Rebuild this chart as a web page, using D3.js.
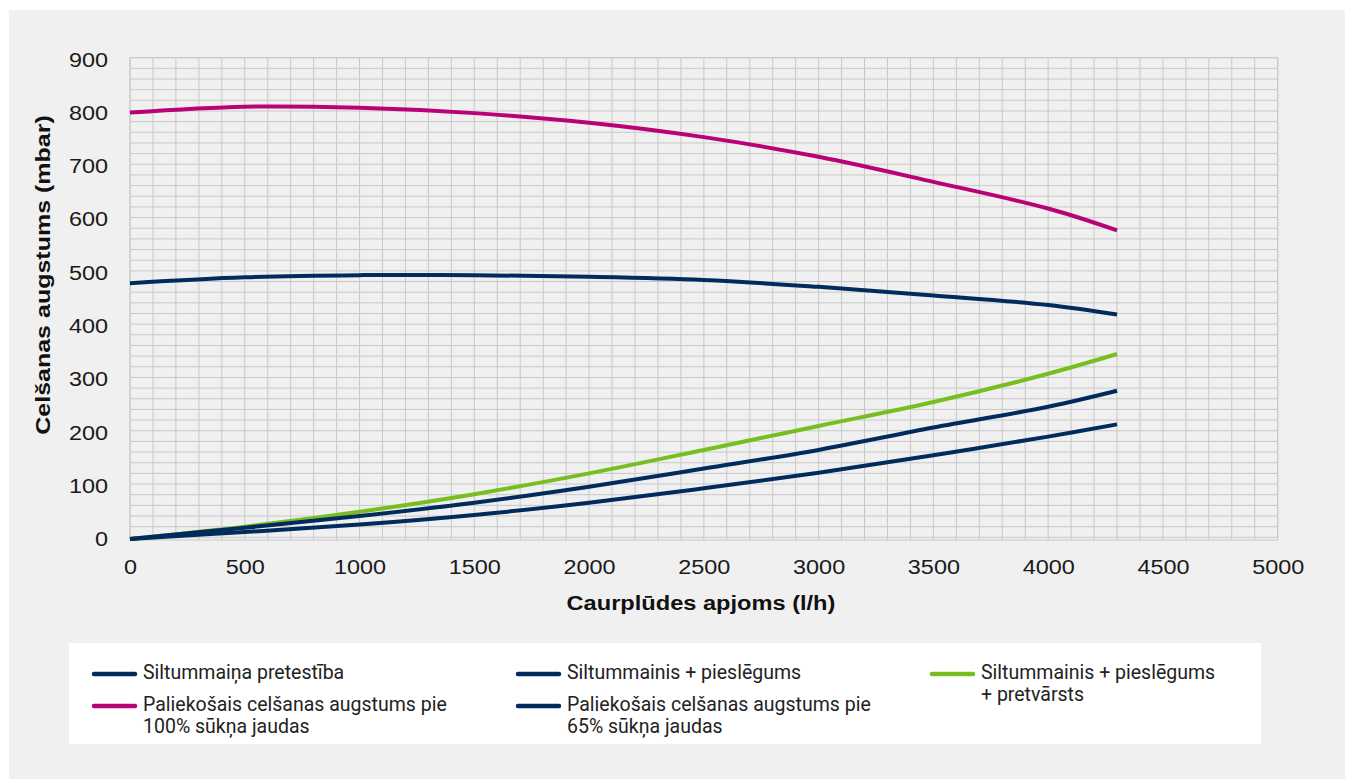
<!DOCTYPE html>
<html>
<head>
<meta charset="utf-8">
<script src="https://cdn.jsdelivr.net/npm/d3@7"></script>
<style>
  html, body { margin: 0; padding: 0; background: #ffffff; }
  svg { display: block; }
</style>
</head>
<body>
<svg id="chart" width="1345" height="779"></svg>
<script>
// ---- data ----
const flowRates = [0, 500, 1000, 1500, 2000, 2500, 3000, 3500, 4000, 4300];
const pump100 = [797, 808, 806, 796, 778, 751, 714, 667, 617, 576];
const pump65 = [477, 488, 492, 492, 489, 483, 470, 454, 436, 418];
const exchValve = [-3, 20, 48, 81, 120, 164, 209, 254, 307, 344];
const exchConn = [-3, 18, 40, 65, 95, 129, 164, 206, 245, 275];
const exchOnly = [-3, 10, 24, 42, 65, 92, 121, 154, 189, 212];
const xTickValues = [0, 500, 1000, 1500, 2000, 2500, 3000, 3500, 4000, 4500, 5000];
const yTickValues = [0, 100, 200, 300, 400, 500, 600, 700, 800, 900];
const xTitle = "Caurplūdes apjoms (l/h)";
const yTitle = "Celšanas augstums (mbar)";
const seriesNames = [
  "Siltummaiņa pretestība",
  "Siltummainis + pieslēgums",
  "Siltummainis + pieslēgums\n+ pretvārsts",
  "Paliekošais celšanas augstums pie\n100% sūkņa jaudas",
  "Paliekošais celšanas augstums pie\n65% sūkņa jaudas"
];

const NAVY = "#002b5c", PINK = "#b90276", GREEN = "#78be20";

const svg = d3.select("#chart");
svg.append("rect").attr("x", 9).attr("y", 10).attr("width", 1336).attr("height", 769).attr("fill", "#f0f0f0");

const x = d3.scaleLinear().domain([0, 5000]).range([130, 1277.7]);
const y = d3.scaleLinear().domain([-5, 900]).range([540, 57.7]);

// grid
const grid = svg.append("g").attr("stroke", "#c8c8c8").attr("stroke-width", 1);
grid.selectAll("line.v").data(d3.range(0, 5001, 100)).join("line")
  .attr("x1", d => x(d)).attr("x2", d => x(d)).attr("y1", y(900)).attr("y2", y(-5));
grid.selectAll("line.h").data(d3.range(0, 901, 20)).join("line")
  .attr("y1", d => y(d)).attr("y2", d => y(d)).attr("x1", x(0)).attr("x2", x(5000));
svg.append("rect").attr("x", x(0)).attr("y", y(900)).attr("width", x(5000) - x(0)).attr("height", y(-5) - y(900))
  .attr("fill", "none").attr("stroke", "#c8c8c8");

function stretch(sel, k) {
  sel.each(function () {
    const w = this.getComputedTextLength();
    d3.select(this).attr("textLength", w * k).attr("lengthAdjust", "spacingAndGlyphs");
  });
}

// axes
const xAxis = svg.append("g").attr("transform", `translate(0,${y(-5)})`)
  .call(d3.axisBottom(x).tickValues(xTickValues).tickSize(0).tickPadding(20).tickFormat(d3.format("d")));
const yAxis = svg.append("g").attr("transform", `translate(${x(0)},0)`)
  .call(d3.axisLeft(y).tickValues(yTickValues).tickSize(0).tickPadding(22).tickFormat(d3.format("d")));
[xAxis, yAxis].forEach(a => {
  a.select(".domain").remove();
  a.selectAll("text").attr("font-family", "'Liberation Sans', Arial, sans-serif")
    .attr("font-size", 20).attr("fill", "#1a1a1a");
  stretch(a.selectAll("text"), 1.17);
});
xAxis.selectAll("text").attr("dy", "0.71em");
yAxis.selectAll("text").attr("dy", "0.42em");

const tx = svg.append("text").attr("x", 701).attr("y", 610).attr("text-anchor", "middle")
  .attr("font-family", "'Liberation Sans', Arial, sans-serif").attr("font-weight", "bold")
  .attr("font-size", 20).attr("fill", "#111").text(xTitle);
stretch(tx, 1.18);
const ty = svg.append("text").attr("transform", "translate(50,275) rotate(-90)").attr("text-anchor", "middle")
  .attr("font-family", "'Liberation Sans', Arial, sans-serif").attr("font-weight", "bold")
  .attr("font-size", 20).attr("fill", "#111").text(yTitle);
stretch(ty, 1.25);

// lines
const line = d3.line().x(d => x(d[0])).y(d => y(d[1])).curve(d3.curveCatmullRom.alpha(0.5));
const series = [
  { vals: pump100, color: PINK },
  { vals: pump65, color: NAVY },
  { vals: exchValve, color: GREEN },
  { vals: exchConn, color: NAVY },
  { vals: exchOnly, color: NAVY }
];
svg.append("g").selectAll("path").data(series).join("path")
  .attr("d", s => line(flowRates.map((f, i) => [f, s.vals[i]])))
  .attr("fill", "none").attr("stroke", s => s.color).attr("stroke-width", 4);

// legend
svg.append("rect").attr("x", 69).attr("y", 643).attr("width", 1192).attr("height", 101).attr("fill", "#ffffff");
const legendItems = [
  { name: seriesNames[0], color: NAVY, lx: 92, ly: 674 },
  { name: seriesNames[3], color: PINK, lx: 92, ly: 706 },
  { name: seriesNames[1], color: NAVY, lx: 516, ly: 674 },
  { name: seriesNames[4], color: NAVY, lx: 516, ly: 706 },
  { name: seriesNames[2], color: GREEN, lx: 930, ly: 674 }
];
const lg = svg.append("g").selectAll("g").data(legendItems).join("g")
  .attr("transform", d => `translate(${d.lx},${d.ly})`);
lg.append("line").attr("x1", 2).attr("x2", 43).attr("y1", 0).attr("y2", 0)
  .attr("stroke", d => d.color).attr("stroke-width", 4.5).attr("stroke-linecap", "round");
lg.append("text").attr("x", 51).attr("y", 5)
  .attr("font-family", "Roboto, 'Liberation Sans', sans-serif").attr("font-size", 19.5).attr("fill", "#222")
  .selectAll("tspan").data(d => d.name.split("\n")).join("tspan")
  .attr("x", 51).attr("dy", (d, i) => i === 0 ? 0 : 22).text(d => d);
</script>
</body>
</html>
